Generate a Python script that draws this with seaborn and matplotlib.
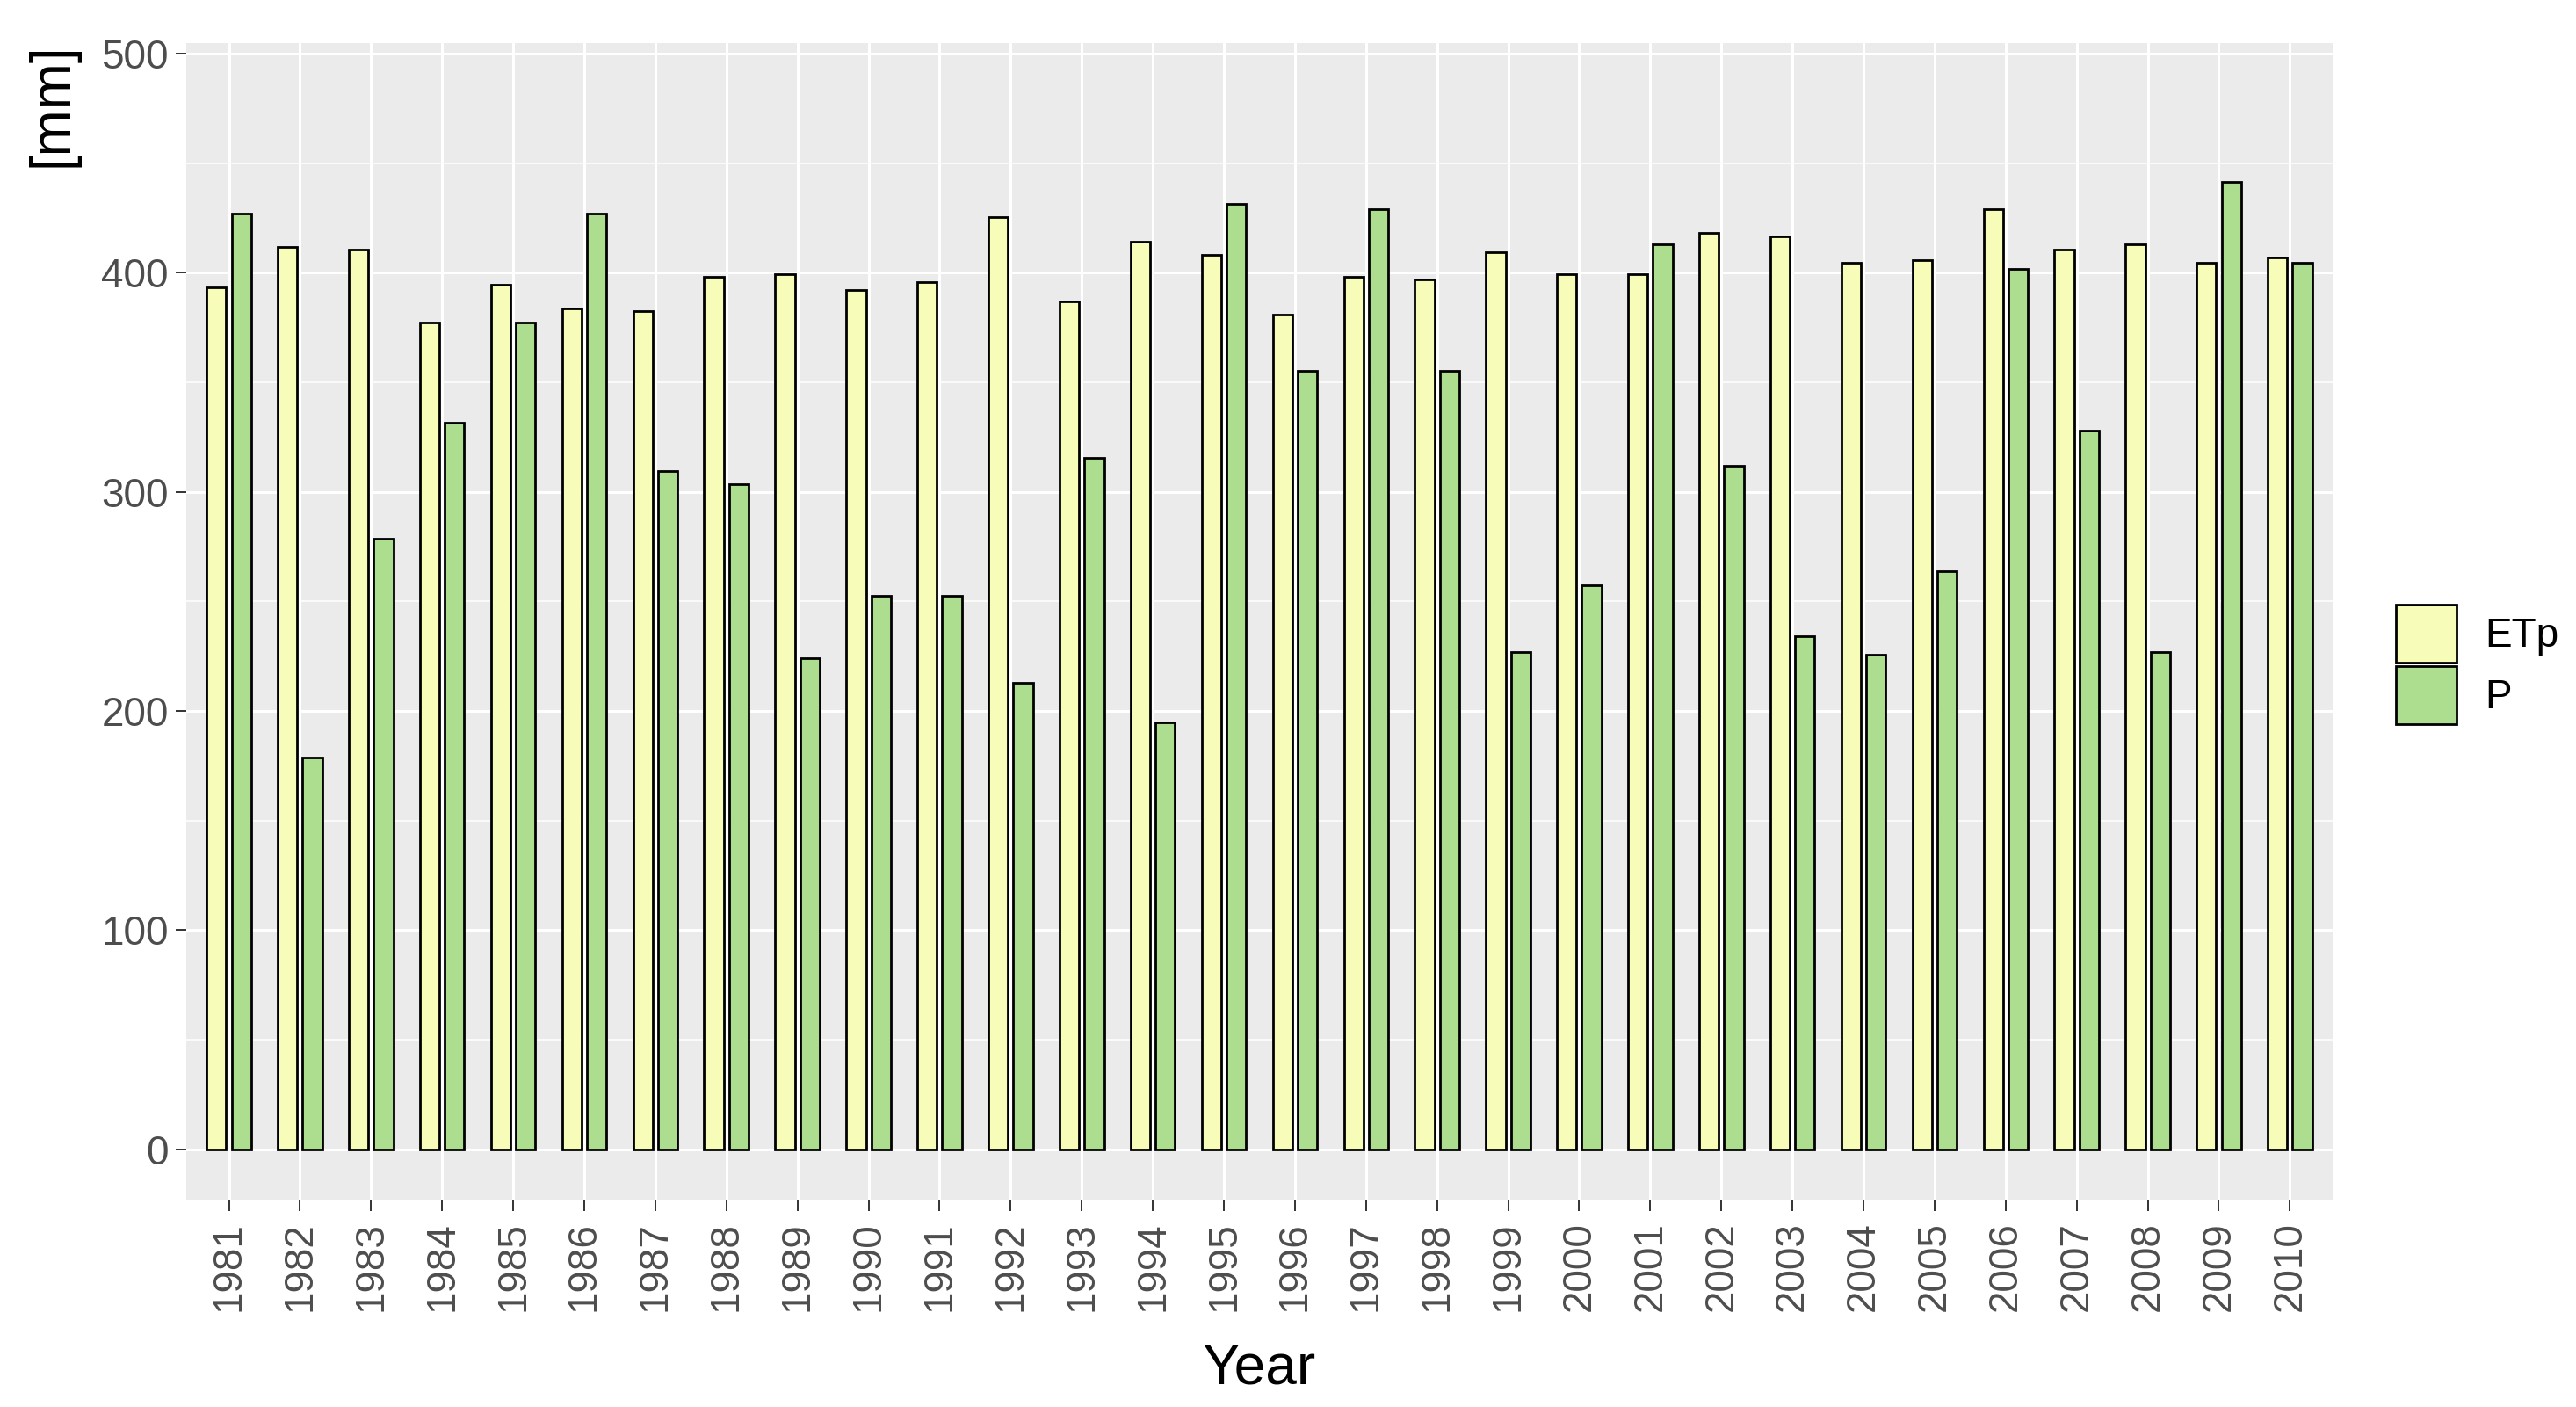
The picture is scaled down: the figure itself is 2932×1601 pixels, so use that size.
import pandas as pd
import numpy as np
import seaborn as sns
import matplotlib.pyplot as plt
from matplotlib.ticker import MultipleLocator

years = [str(y) for y in range(1981, 2011)]
etp = [393.5, 411.9, 410.6, 377.3, 394.5, 383.5, 382.4, 398.3, 399.5, 392.1,
       395.9, 425.6, 387.1, 414.3, 408.2, 380.9, 398.3, 397.1, 409.4, 399.5,
       399.5, 418.1, 416.7, 404.4, 405.6, 429.0, 410.6, 413.0, 404.4, 406.8]
p = [426.9, 178.7, 278.5, 331.6, 377.4, 426.9, 309.4, 303.3, 224.3, 252.5,
     252.5, 213.0, 315.6, 194.7, 431.6, 355.1, 429.2, 355.1, 226.8, 257.5,
     413.0, 311.8, 234.2, 225.6, 263.8, 401.9, 328.0, 226.8, 441.5, 404.4]
series = ['ETp', 'P']
colors = ['#F7FCB9', '#ADDD8E']

df = pd.DataFrame({'Year': years * 2,
                   'var': ['ETp'] * len(years) + ['P'] * len(years),
                   'value': etp + p})

plt.rcParams['font.family'] = ['Liberation Sans', 'DejaVu Sans']

fig = plt.figure(figsize=(29.32, 16.01), dpi=100)
ax = fig.add_axes([0.0723, 0.1468, 0.8332, 0.8226])

sns.barplot(data=df, x='Year', y='value', hue='var', hue_order=series,
            palette=colors, saturation=1, edgecolor='black', linewidth=2.0,
            width=0.7, gap=0.214, errorbar=None, ax=ax)

ax.set_facecolor('#EBEBEB')
for s in ax.spines.values():
    s.set_visible(False)
ax.set_xlim(-0.6, 29.6)
ax.set_ylim(-23.3, 504.8)
ax.yaxis.set_major_locator(MultipleLocator(100))
ax.yaxis.set_minor_locator(MultipleLocator(50))
ax.set_axisbelow(True)
ax.grid(which='major', axis='both', color='white', linewidth=2.2)
ax.grid(which='minor', axis='y', color='white', linewidth=1.1)

ax.tick_params(which='major', length=8.6, width=1.4, color='#333333',
               labelcolor='#4D4D4D', labelsize=33)
ax.tick_params(which='minor', length=0)
ax.tick_params(axis='x', rotation=90, pad=9)
ax.tick_params(axis='y', pad=6)

ax.set_xlabel('Year', fontsize=46, labelpad=25)
ax.set_ylabel('[mm]', fontsize=46, loc='top')
ax.yaxis.set_label_coords(-0.05, 1.0)

sns.move_legend(ax, 'upper left', bbox_to_anchor=(2727 / 2932, 1 - 688 / 1601),
                bbox_transform=fig.transFigure, frameon=False, title=None,
                fontsize=33, handlelength=1.5, handleheight=1.85,
                labelspacing=0.08, handletextpad=0.7, borderpad=0,
                borderaxespad=0)

fig.savefig('out.png', dpi=100)
